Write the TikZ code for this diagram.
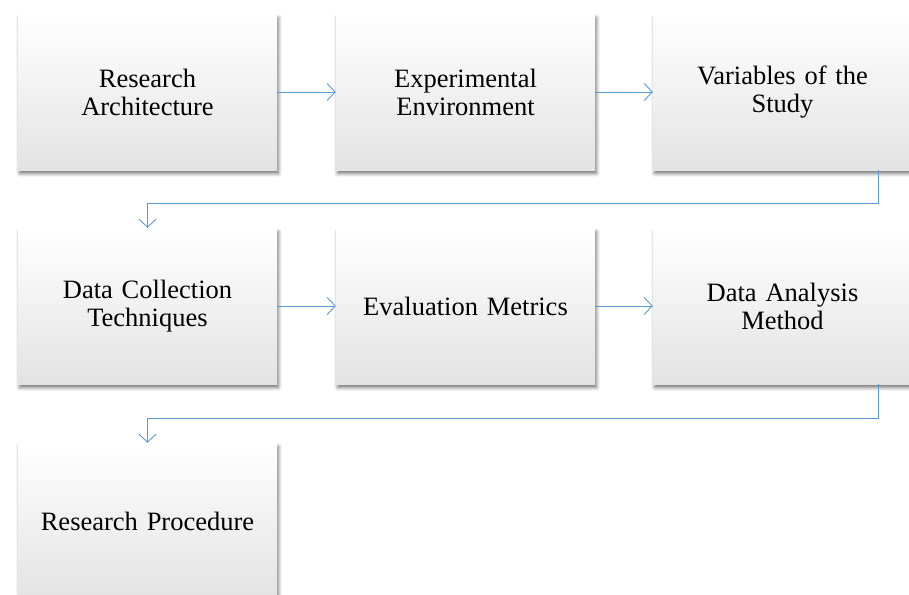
\documentclass[tikz,border=0pt]{standalone}
\usepackage{fontspec}
\setmainfont{Liberation Serif}
\usetikzlibrary{arrows.meta,shadows.blur}
\definecolor{linkblue}{HTML}{5B9BD5}
\begin{document}
\begin{tikzpicture}[x=1pt,y=-1pt,
  stage/.style={rectangle, minimum width=259pt, minimum height=156pt, text width=245pt, align=center,
    top color=white, middle color=white, bottom color=black!11,
    blur shadow={shadow xshift=1.5pt, shadow yshift=-3.5pt, shadow blur radius=3.5pt, shadow opacity=55},
    font=\fontsize{26.5}{28}\selectfont},
  link/.style={-{Straight Barb[length=8pt,width=17pt]}, draw=linkblue, line width=0.9pt}]
\useasboundingbox (0,0) rectangle (909,594);
\node[stage] (arch) at (147.5,92) {Research\\Architecture};
\node[stage] (env) at (465.5,92) {Experimental\\Environment};
\node[stage] (var) at (782.5,92) {Variables of the\\Study};
\node[stage] (coll) at (147.5,306) {Data Collection\\Techniques};
\node[stage] (eval) at (465.5,306) {Evaluation Metrics};
\node[stage] (meth) at (782.5,306) {Data Analysis\\Method};
\node[stage] (proc) at (147.5,521) {Research Procedure};
\coordinate (k1) at (878,203);
\coordinate (k2) at (878,418);
\path [link] (arch) edge (env);
\path [link] (env) edge (var);
\draw [link] (var.south -| k1) -- (k1) -| (coll.north);
\path [link] (coll) edge (eval);
\path [link] (eval) edge (meth);
\draw [link] (meth.south -| k2) -- (k2) -| (proc.north);
\end{tikzpicture}
\end{document}
